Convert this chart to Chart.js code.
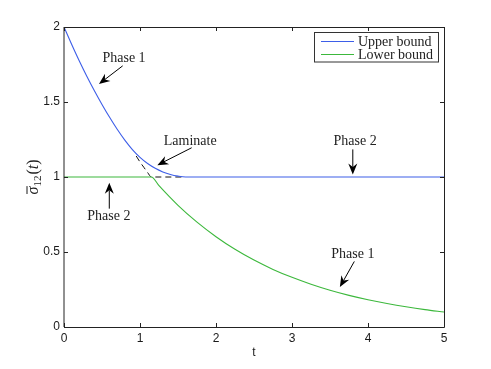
<!DOCTYPE html>
<html><head><meta charset="utf-8">
<script src="https://cdn.jsdelivr.net/npm/chart.js@4"></script>
<style>html,body{margin:0;padding:0;background:#fff;} canvas{display:block;}</style>
</head><body>
<canvas id="c" width="491" height="369"></canvas>
<script>
// ---- data ----
const upperT = [0, 0.1, 0.2, 0.3, 0.4, 0.5, 0.6, 0.7, 0.8, 0.9, 1.0, 1.1, 1.2, 1.3, 1.4, 1.5, 1.6, 5];
const upperY = [2.0, 1.885, 1.775, 1.672, 1.575, 1.484, 1.398, 1.318, 1.246, 1.183, 1.131, 1.090, 1.058, 1.034, 1.017, 1.006, 1.0, 1.0];
const lowerT = [0, 1.15, 1.25, 1.5, 1.75, 2, 2.25, 2.5, 2.75, 3, 3.25, 3.5, 3.75, 4, 4.25, 4.5, 4.75, 5];
const lowerY = [1, 1, 0.942, 0.811, 0.699, 0.602, 0.518, 0.446, 0.384, 0.331, 0.285, 0.245, 0.211, 0.182, 0.157, 0.135, 0.116, 0.100];
const laminateT = [0.95, 1.0, 1.05, 1.1, 1.15, 1.55];
const laminateY = [1.14, 1.10, 1.065, 1.03, 1.0, 1.0];
const xTicks = [0, 1, 2, 3, 4, 5];
const yTicks = [0, 0.5, 1, 1.5, 2];
const seriesNames = ['Upper bound', 'Lower bound'];
const xTitle = 't';
// annotations (data coordinates): label baseline point, arrow tail, arrow tip
const noteText = ['Phase 1', 'Laminate', 'Phase 2', 'Phase 2', 'Phase 1'];
const noteTx = [0.79, 1.66, 0.59, 3.83, 3.80];
const noteTy = [1.766, 1.211, 0.712, 1.211, 0.462];
const arrowX1 = [0.772, 1.68, 0.596, 3.80, 3.82];
const arrowY1 = [1.741, 1.195, 0.789, 1.184, 0.437];
const arrowX2 = [0.46, 1.228, 0.596, 3.80, 3.63];
const arrowY2 = [1.62, 1.079, 0.961, 1.017, 0.266];

const BLUE = '#3d5ee8', GREEN = '#3cb83c', INK = '#222';
const pts = (xs, ys) => xs.map((x, i) => ({x: x, y: ys[i]}));

function drawArrow(ctx, x1, y1, x2, y2) {
  const ang = Math.atan2(y2 - y1, x2 - x1);
  const L = 11, W = 4.5, N = 7.5;
  ctx.save();
  ctx.strokeStyle = '#000'; ctx.fillStyle = '#000'; ctx.lineWidth = 1;
  ctx.beginPath();
  ctx.moveTo(x1, y1);
  ctx.lineTo(x2 - Math.cos(ang) * N, y2 - Math.sin(ang) * N);
  ctx.stroke();
  ctx.translate(x2, y2); ctx.rotate(ang);
  ctx.beginPath();
  ctx.moveTo(0, 0);
  ctx.lineTo(-L, -W);
  ctx.lineTo(-N, 0);
  ctx.lineTo(-L, W);
  ctx.closePath();
  ctx.fill();
  ctx.restore();
}

const decor = {
  id: 'decor',
  afterDraw(chart) {
    const ctx = chart.ctx, xs = chart.scales.x, ys = chart.scales.y;
    const a = chart.chartArea;
    ctx.save();
    // frame
    ctx.strokeStyle = INK; ctx.lineWidth = 1;
    ctx.beginPath();
    ctx.moveTo(64, a.top); ctx.lineTo(64, a.bottom);
    ctx.stroke();
    ctx.beginPath();
    ctx.moveTo(64, Math.round(a.top) + 0.5); ctx.lineTo(Math.round(a.right) + 0.5, Math.round(a.top) + 0.5);
    ctx.lineTo(Math.round(a.right) + 0.5, Math.round(a.bottom) + 0.5); ctx.lineTo(64, Math.round(a.bottom) + 0.5);
    ctx.stroke();
    // inward ticks
    ctx.beginPath();
    xTicks.forEach(v => {
      const px = Math.round(xs.getPixelForValue(v)) + 0.5;
      ctx.moveTo(px, a.bottom); ctx.lineTo(px, a.bottom - 4);
      ctx.moveTo(px, a.top); ctx.lineTo(px, a.top + 4);
    });
    yTicks.forEach(v => {
      const py = Math.round(ys.getPixelForValue(v)) + 0.5;
      ctx.moveTo(a.left, py); ctx.lineTo(a.left + 4, py);
      ctx.moveTo(a.right, py); ctx.lineTo(a.right - 4, py);
    });
    ctx.stroke();

    // x title
    ctx.fillStyle = '#1a1a1a';
    ctx.font = '12px "Liberation Sans", Arial, sans-serif';
    ctx.textAlign = 'center'; ctx.textBaseline = 'alphabetic';
    ctx.fillText(xTitle, (a.left + a.right) / 2, 356);

    // y title: sigma-bar_12(t)
    ctx.save();
    ctx.translate(38, (a.top + a.bottom) / 2);
    ctx.rotate(-Math.PI / 2);
    const fMain = 'italic 16px "Liberation Serif", "DejaVu Serif", serif';
    const fUp = '16px "Liberation Serif", "DejaVu Serif", serif';
    const fSub = '11px "Liberation Serif", "DejaVu Serif", serif';
    ctx.font = fMain; const wS = ctx.measureText('σ').width;
    ctx.font = fSub; const w12 = ctx.measureText('12').width;
    ctx.font = fUp; const wP = ctx.measureText('(').width, wP2 = ctx.measureText(')').width;
    ctx.font = fMain; const wT = ctx.measureText('t').width;
    const total = wS + w12 + wP + wT + wP2 + 1;
    let cx = -total / 2;
    ctx.textAlign = 'left';
    ctx.font = fMain; ctx.fillText('σ', cx, 0);
    ctx.fillRect(cx + 0.5, -11.5, wS, 1);
    cx += wS;
    ctx.font = fSub; ctx.fillText('12', cx, 3); cx += w12 + 1;
    ctx.font = fUp; ctx.fillText('(', cx, 0); cx += wP;
    ctx.font = fMain; ctx.fillText('t', cx, 0); cx += wT;
    ctx.font = fUp; ctx.fillText(')', cx, 0);
    ctx.restore();

    // annotations
    ctx.font = '14px "Liberation Serif", "Times New Roman", serif';
    ctx.fillStyle = '#222'; ctx.textAlign = 'center'; ctx.textBaseline = 'alphabetic';
    noteText.forEach((t, i) => {
      ctx.fillText(t, xs.getPixelForValue(noteTx[i]), ys.getPixelForValue(noteTy[i]));
      drawArrow(ctx, xs.getPixelForValue(arrowX1[i]), ys.getPixelForValue(arrowY1[i]),
                xs.getPixelForValue(arrowX2[i]), ys.getPixelForValue(arrowY2[i]));
    });

    // legend
    ctx.fillStyle = '#fff';
    ctx.fillRect(314.5, 32.5, 124, 29.5);
    ctx.strokeStyle = '#333'; ctx.lineWidth = 1;
    ctx.strokeRect(314.5, 32.5, 124, 29.5);
    const cols = [BLUE, GREEN];
    const ly = [41.5, 54.5];
    ctx.textAlign = 'left';
    seriesNames.forEach((n, i) => {
      ctx.strokeStyle = cols[i]; ctx.beginPath();
      ctx.moveTo(321, ly[i]); ctx.lineTo(354, ly[i]); ctx.stroke();
      ctx.fillStyle = '#222';
      ctx.fillText(n, 358, ly[i] + 4.5);
    });
    ctx.restore();
  }
};

new Chart(document.getElementById('c'), {
  type: 'line',
  data: {
    datasets: [
      {label: seriesNames[0], data: pts(upperT, upperY), borderColor: BLUE, borderWidth: 1.1,
       pointRadius: 0, cubicInterpolationMode: 'monotone', fill: false},
      {label: seriesNames[1], data: pts(lowerT, lowerY), borderColor: GREEN, borderWidth: 1.1,
       pointRadius: 0, cubicInterpolationMode: 'monotone', fill: false},
      {label: 'Laminate', data: pts(laminateT, laminateY), borderColor: '#111', borderWidth: 1,
       borderDash: [6, 4], pointRadius: 0, cubicInterpolationMode: 'monotone', fill: false}
    ]
  },
  options: {
    responsive: false, devicePixelRatio: 1, animation: false,
    layout: {padding: {top: 27, right: 47, left: 0, bottom: 0}},
    plugins: {legend: {display: false}, tooltip: {enabled: false}},
    scales: {
      x: {type: 'linear', min: 0, max: 5,
          afterBuildTicks: s => { s.ticks = xTicks.map(v => ({value: v})); },
          afterFit: s => { s.height = 42; },
          grid: {display: false, drawTicks: false}, border: {display: false},
          ticks: {padding: 4, color: '#1a1a1a', callback: v => String(v),
                  font: {family: '"Liberation Sans", Arial, sans-serif', size: 12}}},
      y: {type: 'linear', min: 0, max: 2,
          afterBuildTicks: s => { s.ticks = yTicks.map(v => ({value: v})); },
          afterFit: s => { s.width = 64; },
          grid: {display: false, drawTicks: false}, border: {display: false},
          ticks: {padding: 4, color: '#1a1a1a', callback: v => String(v),
                  font: {family: '"Liberation Sans", Arial, sans-serif', size: 12}}}
    }
  },
  plugins: [decor]
});
</script>
</body></html>
